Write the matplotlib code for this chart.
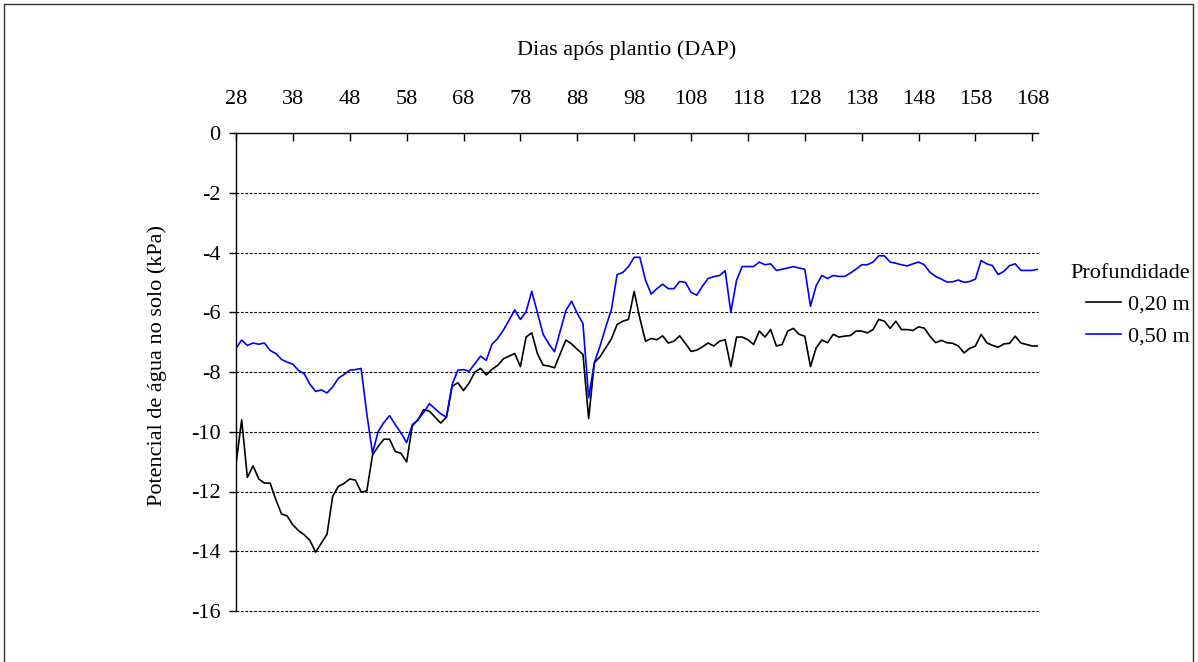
import matplotlib
matplotlib.use("Agg")
import matplotlib.pyplot as plt
from matplotlib.patches import Rectangle
import numpy as np

plt.rcParams['font.family'] = ['Liberation Serif', 'DejaVu Serif']
plt.rcParams['axes.unicode_minus'] = False

# Days after planting (DAP)
dias = list(range(28, 170))

prof_050 = [
    -7.21, -6.93, -7.11, -7.03, -7.07, -7.03, -7.28, -7.38, -7.58, -7.67, -7.74, -7.95,
    -8.06, -8.41, -8.65, -8.60, -8.70, -8.50, -8.21, -8.08, -7.94, -7.92, -7.88,
    -9.40,
    -10.72, -9.99, -9.69, -9.46, -9.76, -10.04, -10.36, -9.76, -9.60, -9.35, -9.06, -9.23,
    -9.40, -9.51, -8.42, -7.94, -7.92, -7.97, -7.72, -7.47, -7.61, -7.07, -6.88, -6.60,
    -6.27, -5.92, -6.24, -5.98, -5.30, -6.02, -6.74, -7.06, -7.32, -6.63, -5.94, -5.63,
    -6.04, -6.38, -8.86, -7.69, -7.13, -6.50, -5.91, -4.74, -4.67, -4.47, -4.16, -4.16,
    -4.93, -5.39, -5.21, -5.06, -5.21, -5.21, -4.97, -5.00, -5.33, -5.43, -5.13, -4.87,
    -4.81, -4.77, -4.61, -6.00, -4.93, -4.47, -4.47, -4.47, -4.32, -4.41, -4.38,
    -4.60, -4.56, -4.52, -4.47, -4.52, -4.56, -5.80, -5.11, -4.77, -4.87, -4.77, -4.80,
    -4.80, -4.69, -4.56, -4.41, -4.41, -4.32, -4.11, -4.11, -4.32, -4.36, -4.41, -4.45,
    -4.38, -4.32, -4.41, -4.66, -4.80, -4.89, -4.99, -4.98, -4.92, -5.00, -4.97, -4.89,
    -4.27, -4.38, -4.44, -4.74, -4.63, -4.44, -4.38, -4.60, -4.60, -4.60, -4.56,
]

prof_020 = [
    -11.08, -9.60, -11.53, -11.14, -11.58, -11.72, -11.72, -12.27, -12.75, -12.82, -13.12, -13.31,
    -13.45, -13.64, -14.03, -13.73, -13.43, -12.16, -11.83, -11.73, -11.58, -11.62, -12.02, -11.98,
    -10.78, -10.49, -10.25, -10.25, -10.66, -10.72, -11.01, -9.80, -9.60, -9.26, -9.31, -9.51,
    -9.71, -9.51, -8.48, -8.36, -8.62, -8.36, -8.00, -7.88, -8.10, -7.91, -7.78,
    -7.56, -7.47, -7.38, -7.82, -6.83, -6.69, -7.39, -7.77, -7.80, -7.86, -7.39, -6.93,
    -7.06, -7.24, -7.41, -9.56, -7.69, -7.49, -7.19, -6.89, -6.41, -6.30, -6.24, -5.30, -6.20,
    -6.97, -6.88, -6.92, -6.79, -7.03, -6.97, -6.79, -7.04, -7.31, -7.27, -7.16, -7.03,
    -7.13, -6.97, -6.92, -7.82, -6.83, -6.83, -6.92, -7.08, -6.63, -6.83, -6.58,
    -7.13, -7.08, -6.63, -6.54, -6.74, -6.80, -7.82, -7.19, -6.93, -7.02, -6.74, -6.83,
    -6.80, -6.78, -6.63, -6.63, -6.69, -6.58, -6.24, -6.30, -6.54, -6.30, -6.58, -6.58,
    -6.61, -6.49, -6.53, -6.80, -7.02, -6.94, -7.02, -7.04, -7.13, -7.36, -7.21, -7.13,
    -6.74, -7.02, -7.11, -7.17, -7.06, -7.04, -6.80, -7.03, -7.08, -7.13, -7.13,
]

x_ticks = list(range(28, 169, 10))
y_ticks = [0, -2, -4, -6, -8, -10, -12, -14, -16]
serie_labels = ["0,20 m", "0,50 m"]

W, H = 1198, 662
fig = plt.figure(figsize=(W / 100, H / 100), dpi=100)
fig.patch.set_facecolor('white')
ax = fig.add_axes([236 / W, (H - 611) / H, (1038 - 236) / W, (611 - 133) / H])

ax.plot(dias, prof_020, color='black', lw=1.2, label=serie_labels[0])
ax.plot(dias, prof_050, color='#0000ff', lw=1.2, label=serie_labels[1])

ax.set_xlim(28, 169)
ax.set_ylim(-16, 0)

ax.xaxis.tick_top()
ax.set_xticks(x_ticks)
ax.set_xticklabels([str(v) for v in x_ticks])
ax.tick_params(axis='x', direction='in', length=6, width=1, pad=17, labelsize=16)
ax.set_yticks(y_ticks)
ax.set_yticklabels([("-" + str(-v)) if v < 0 else str(v) for v in y_ticks])
ax.tick_params(axis='y', direction='out', length=5, width=1, pad=6, labelsize=16)

for v in y_ticks[1:]:
    ax.axhline(v, color='black', lw=0.8, ls=(0, (2.5, 1.5)), zorder=0, clip_on=False)

ax.spines['right'].set_visible(False)
ax.spines['bottom'].set_visible(False)
ax.spines['top'].set_linewidth(1.0)
ax.spines['left'].set_linewidth(1.0)

ax.xaxis.set_label_position('top')
ax.set_xlabel('Dias após plantio (DAP)', fontsize=16)
ax.xaxis.set_label_coords((627 - 236) / (1038 - 236), 1 + (133 - 50) / (611 - 133))
ax.xaxis.label.set_va('center')
ax.set_ylabel('Potencial de água no solo (kPa)', fontsize=16)
ax.yaxis.set_label_coords(-(236 - 157) / (1038 - 236), (611 - 365) / (611 - 133))
ax.yaxis.label.set_va('center')

leg = ax.legend(loc='upper right', bbox_to_anchor=(1201 / W, (H - 253) / H),
                bbox_transform=fig.transFigure, frameon=False, fontsize=16,
                title='Profundidade', title_fontsize=16, handlelength=1.6,
                handletextpad=0.3, labelspacing=0.5, borderpad=0.0,
                alignment='right')

fig.patches.append(Rectangle((4 / W, -0.05), (1193 - 4) / W, 1.05 - 4 / H,
                             transform=fig.transFigure, fill=False,
                             edgecolor='#333333', lw=1.0))

fig.savefig('out.png', dpi=100)
